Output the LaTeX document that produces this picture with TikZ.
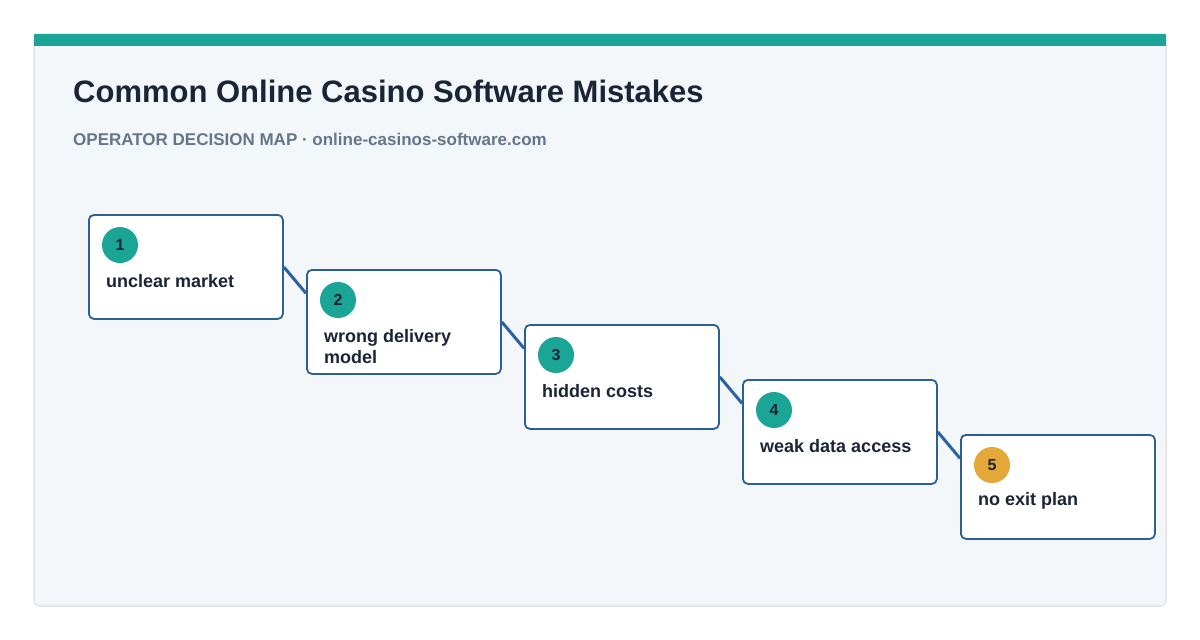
\documentclass[tikz,border=0pt]{standalone}
\usepackage{fontspec}
\setmainfont{Liberation Sans}
\usetikzlibrary{calc}
\definecolor{teal}{HTML}{1AA596}
\definecolor{gold}{HTML}{E3A838}
\definecolor{cardbg}{HTML}{F3F7FA}
\definecolor{cardline}{HTML}{DDE3E9}
\definecolor{boxline}{HTML}{2C5F96}
\definecolor{link}{HTML}{2A63A3}
\definecolor{ink}{HTML}{1B2436}
\definecolor{subink}{HTML}{66758A}
\tikzset{
  stepbox/.style={draw=boxline, line width=1.8pt, fill=white, rounded corners=5pt, minimum width=194pt, minimum height=104pt, inner sep=0pt},
  badge/.style={circle, minimum size=36pt, inner sep=0pt, text=ink, font=\bfseries\fontsize{16}{19}\selectfont},
  lbl/.style={anchor=west, text=ink, font=\bfseries\fontsize{18}{21}\selectfont, align=left, inner sep=0pt},
  linkline/.style={draw=link, line width=3pt}
}
\begin{document}
\begin{tikzpicture}[x=1pt,y=-1pt]
\useasboundingbox (0,0) rectangle (1200,640);
\fill[white] (0,0) rectangle (1200,640);
\draw[cardline, fill=cardbg, line width=1.5pt, rounded corners=6pt] (34,34) rectangle (1166,606);
\fill[teal] (34,34) rectangle (1166,46);
\node[anchor=base west, inner sep=0pt, text=ink, font=\bfseries\fontsize{31}{36}\selectfont] (title) at (73,102) {Common Online Casino Software Mistakes};
\node[anchor=base west, inner sep=0pt, text=subink, font=\bfseries\fontsize{17}{20}\selectfont] (sub) at (73,145) {OPERATOR DECISION MAP · online-casinos-software.com};
\foreach \i/\x/\y in {1/88/214,2/306/269,3/524/324,4/742/379,5/960/434}{
  \node[stepbox, anchor=north west] (b\i) at (\x,\y) {};
}
\foreach \a/\b in {1/2,2/3,3/4,4/5}{
  \draw[linkline] ($(b\a.north east)!0.5!(b\a.south east)$) -- ($(b\b.north west)!0.23!(b\b.south west)$);
}
\foreach \i/\x/\y in {1/88/214,2/306/269,3/524/324,4/742/379}{
  \node[badge, fill=teal] (n\i) at (\x+32,\y+31) {\i};
}
\node[badge, fill=gold] (n5) at (960+32,434+31) {5};
\node[lbl] (t1) at (106,281) {unclear market};
\node[lbl, anchor=north west] (t2) at (324,329) {wrong delivery\\model};
\node[lbl] (t3) at (542,391) {hidden costs};
\node[lbl] (t4) at (760,446) {weak data access};
\node[lbl] (t5) at (978,501) {no exit plan};
\end{tikzpicture}
\end{document}
